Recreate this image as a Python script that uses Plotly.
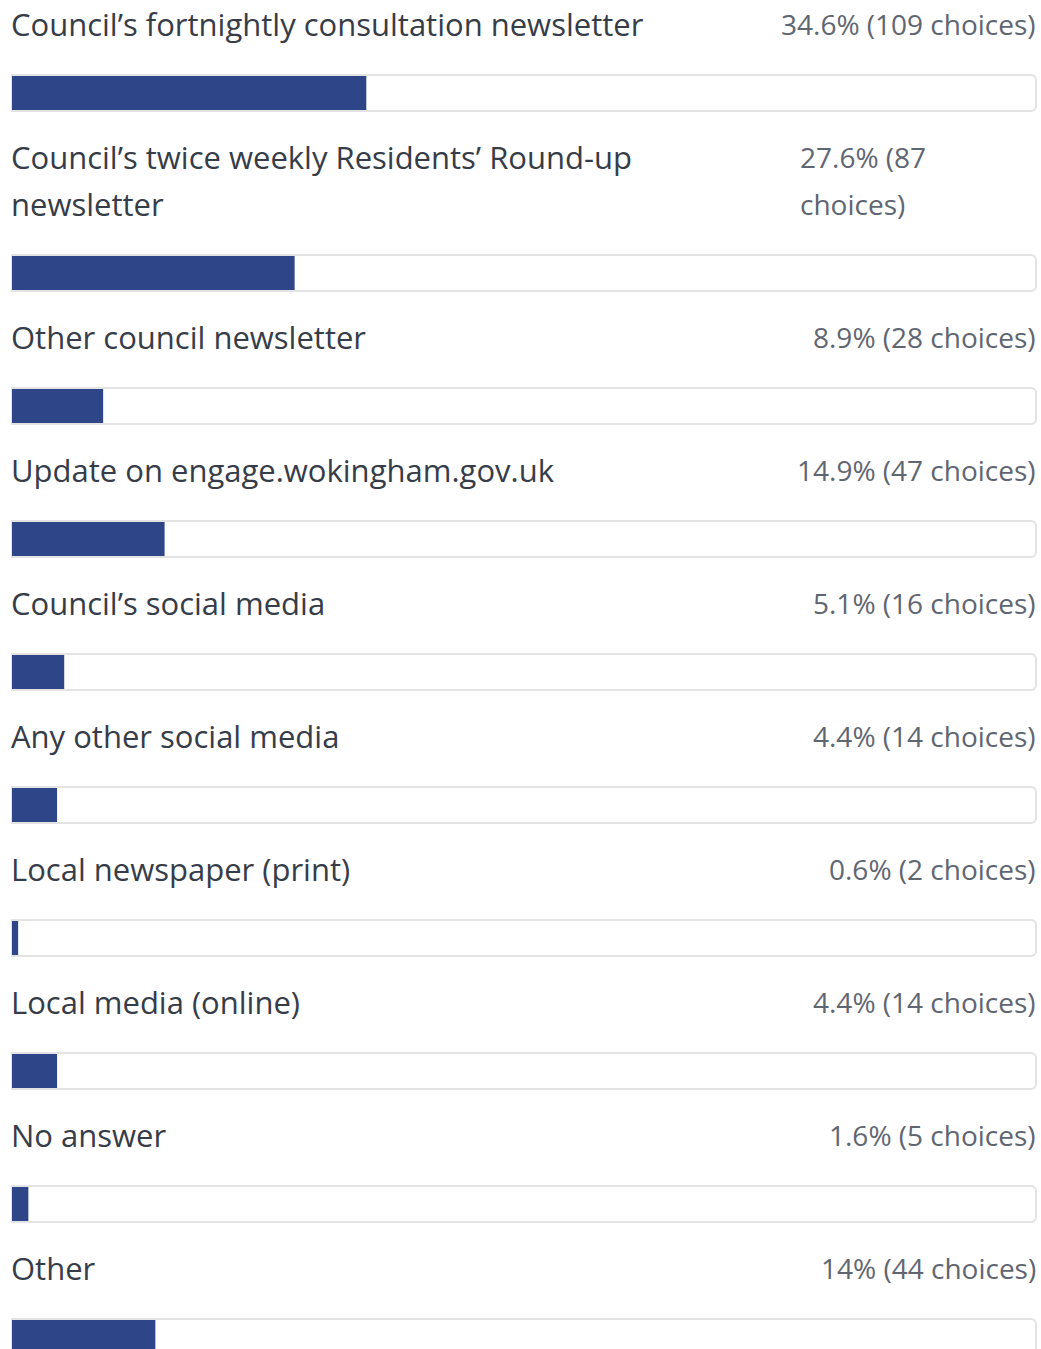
import plotly.graph_objects as go

# Survey answers: how respondents heard about the consultation
options = [
    "Council’s fortnightly consultation newsletter",
    "Council’s twice weekly Residents’ Round-up<br>newsletter",
    "Other council newsletter",
    "Update on engage.wokingham.gov.uk",
    "Council’s social media",
    "Any other social media",
    "Local newspaper (print)",
    "Local media (online)",
    "No answer",
    "Other",
]
percent = [34.6, 27.6, 8.9, 14.9, 5.1, 4.4, 0.6, 4.4, 1.6, 14]
choices = [109, 87, 28, 47, 16, 14, 2, 14, 5, 44]

W, H = 1041, 1349
X0, X1 = 12, 1036            # pixel extent of the 0–100 % track
SCALE = (X1 - X0) / 100.0
LINE = 47                    # line pitch of wrapped labels
ROW = 133                    # pitch of single-line rows
VALUE_COL_W = 236            # width of the wrapped value column

FILL = "#2e4587"
TRACK_LINE = "#e3e3e3"
LABEL_COL = "#363c48"
VALUE_COL = "#5f6672"
FONT = "'Open Sans', 'Noto Sans', sans-serif"

bar_y, annotations = [], []
top = 0
for name, pct, n in zip(options, percent, choices):
    lines = name.split("<br>")
    extra = len(lines) - 1
    for k, ln in enumerate(lines):
        annotations.append(dict(
            x=0, y=top + 24 + LINE * k, xref="x", yref="y", xshift=-3,
            text=ln, showarrow=False, xanchor="left", yanchor="middle",
            font=dict(family=FONT, size=31, color=LABEL_COL),
        ))
    value = f"{pct:g}% ({n} choices)"
    if extra:
        head, tail = value.rsplit(" ", 1)
        vlines = [head, tail]
    else:
        vlines = [value]
    for k, ln in enumerate(vlines):
        ann = dict(
            x=100, y=top + 24 + LINE * k, xref="x", yref="y", xshift=2,
            text=ln, showarrow=False, xanchor="right", yanchor="middle",
            font=dict(family=FONT, size=28, color=VALUE_COL),
        )
        if extra:
            # wrapped value text sits left-aligned in a fixed-width column
            ann.update(width=VALUE_COL_W, align="left")
        annotations.append(ann)
    bar_y.append(top + 93 + LINE * extra)
    top += ROW + LINE * extra

fig = go.Figure()
# empty track behind each answer
fig.add_trace(go.Bar(
    x=[100] * len(options), y=bar_y, orientation="h", width=36,
    marker=dict(color="white", line=dict(color=TRACK_LINE, width=2), cornerradius=5),
    hoverinfo="skip",
))
# filled share
fig.add_trace(go.Bar(
    x=percent, y=bar_y, orientation="h", width=34,
    marker=dict(color=FILL, line=dict(width=0)),
    customdata=[o.replace("<br>", " ") for o in options],
    hovertemplate="%{customdata}: %{x}%<extra></extra>",
))

fig.update_layout(
    width=W, height=H, margin=dict(l=0, r=0, t=0, b=0),
    paper_bgcolor="white", plot_bgcolor="white",
    barmode="overlay", showlegend=False,
    xaxis=dict(range=[-X0 / SCALE, 100 + (W - X1) / SCALE], visible=False, fixedrange=True),
    yaxis=dict(range=[H, 0], visible=False, fixedrange=True),
    annotations=annotations,
)

fig.write_html("out.html")
